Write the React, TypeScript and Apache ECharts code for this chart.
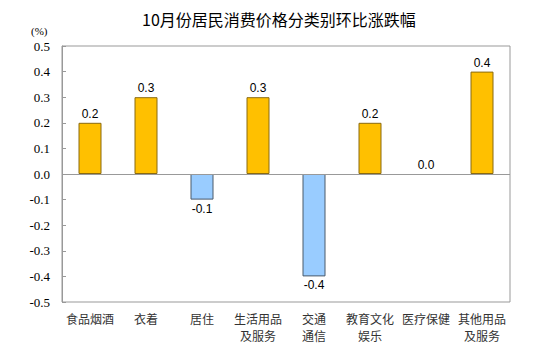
import React, { useEffect, useRef } from "react";
import * as echarts from "echarts";

const categories = ["食品烟酒", "衣着", "居住", "生活用品\n及服务", "交通\n通信", "教育文化\n娱乐", "医疗保健", "其他用品\n及服务"];
const values = [0.2, 0.3, -0.1, 0.3, -0.4, 0.2, 0.0, 0.4];
const titleText = "10月份居民消费价格分类别环比涨跌幅";
const unitText = "(%)";

export default function App() {
  const ref = useRef<HTMLDivElement>(null);
  useEffect(() => {
    document.body.style.margin = "0";
    const chart = echarts.init(ref.current!, null, { renderer: "svg" });
    chart.setOption({
      animation: false,
      backgroundColor: "#fff",
      graphic: [
        {
          type: "text",
          left: 142,
          top: 11,
          style: { text: titleText, fontSize: 16, fontFamily: "Noto Sans CJK SC", fill: "#000" },
        },
        {
          type: "text",
          left: 31,
          top: 25,
          style: { text: unitText, fontSize: 11, fontFamily: "Liberation Serif", fill: "#000" },
        },
      ],
      grid: { left: 62, right: 24, top: 46, bottom: 53, show: true, borderColor: "#999", borderWidth: 1 },
      xAxis: {
        type: "category",
        data: categories,
        axisLine: { show: false, onZero: false },
        axisTick: { show: false },
        axisLabel: { color: "#333", fontSize: 12, fontFamily: "Noto Sans CJK SC", lineHeight: 17, margin: 8, interval: 0 },
      },
      yAxis: {
        type: "value",
        min: -0.5,
        max: 0.5,
        interval: 0.1,
        splitLine: { show: false },
        axisLine: { show: true, lineStyle: { color: "#999" } },
        axisTick: { show: true, inside: true, length: 4, lineStyle: { color: "#999" } },
        axisLabel: {
          color: "#000",
          fontSize: 13,
          fontFamily: "Liberation Serif",
          margin: 12,
          formatter: (v: number) => v.toFixed(1),
        },
      },
      series: [
        {
          type: "bar",
          barWidth: 23,
          data: values.map((v) => ({
            value: v,
            itemStyle:
              v > 0
                ? { color: "#FFC000", borderColor: "#8A6A10", borderWidth: 1 }
                : v < 0
                ? { color: "#99CCFF", borderColor: "#4A5A6A", borderWidth: 1 }
                : { color: "#FFC000", borderWidth: 0 },
            label: {
              show: true,
              position: v < 0 ? "bottom" : "top",
              distance: 3,
              formatter: () => v.toFixed(1),
              color: "#000",
              fontSize: 12,
              fontFamily: "Liberation Sans",
            },
          })),
          markLine: {
            silent: true,
            symbol: "none",
            label: { show: false },
            lineStyle: { color: "#999", type: "solid", width: 1 },
            data: [{ yAxis: 0 }],
          },
        },
      ],
    });
    return () => chart.dispose();
  }, []);
  return <div ref={ref} style={{ width: 534, height: 355 }} />;
}
